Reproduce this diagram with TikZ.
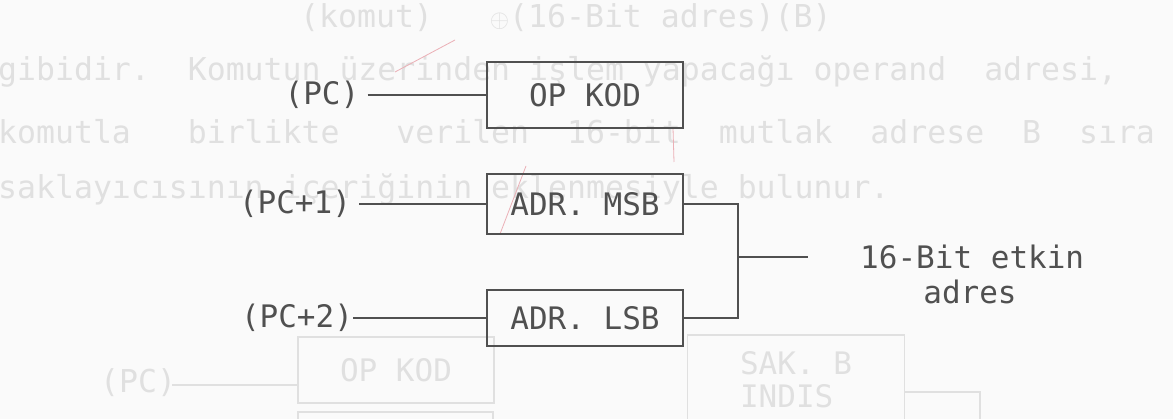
\documentclass[tikz,border=0pt]{standalone}
\usepackage{fontspec}
\newfontfamily\dotfont{DejaVu Sans Mono}
\definecolor{ink}{HTML}{505050}
\definecolor{ghost}{HTML}{E0E0E0}
\definecolor{paper}{HTML}{FAFAFA}
\definecolor{pencil}{HTML}{EBB0B6}
\begin{document}
\begin{tikzpicture}[x=1pt,y=-1pt,
  txt/.style={font=\dotfont\fontsize{31}{33}\selectfont, text=ink, inner sep=0pt},
  gtxt/.style={font=\dotfont\fontsize{31.5}{33}\selectfont, text=ghost, inner sep=0pt, anchor=west},
  regbox/.style={draw=ink, line width=1.3pt, minimum width=196pt, font=\dotfont\fontsize{31}{33}\selectfont, text=ink, inner sep=0pt},
  wire/.style={draw=ink, line width=1.3pt},
  gline/.style={draw=ghost, line width=1.5pt},
  pencilmark/.style={draw=pencil, line width=0.8pt}]
\useasboundingbox[fill=paper] (0,0) rectangle (1173,419);
% bleed-through text from the reverse side
\node[gtxt] (g0) at (300,18) {(komut)~~~$\oplus$(16-Bit~adres)(B)};
\node[gtxt] (g1) at (-2,72) {gibidir.~~Komutun üzerinden işlem yapacağı~operand~~adresi,};
\node[gtxt] (g2) at (-2,132) {komutla~~~birlikte~~~verilen~~16-bit~~mutlak~~adrese~~B~~sıra};
\node[gtxt] (g3) at (-2,190) {saklayıcısının içeriğinin eklenmesiyle bulunur.};
\node[gtxt] (g4) at (100,383) {(PC)};
\node[draw=ghost, line width=1.5pt, minimum width=196pt, minimum height=66pt, inner sep=0pt, font=\dotfont\fontsize{31}{33}\selectfont, text=ghost] (g5) at (396,370) {OP KOD};
\node[draw=ghost, line width=1.5pt, minimum width=217pt, minimum height=90pt, inner sep=0pt, align=left, font=\dotfont\fontsize{31}{33}\selectfont, text=ghost] (g6) at (796,380) {SAK. B\\INDIS};
\coordinate (g7) at (172,385);
\draw[gline] (g7) -- (g7 -| g5.west);
\draw[gline] (g6.east |- 0,392) -- (980,392) -- (980,419);
\draw[gline] (298,419) -- (298,412) -- (493,412) -- (493,419);
% pencil marks
\draw[pencilmark] (455,40) -- (395,72);
\draw[pencilmark] (500,234) -- (526,166);
\draw[pencilmark] (673,128) -- (674,162);
% main diagram
\node[regbox, minimum height=66pt] (op) at (585,95) {OP KOD};
\node[regbox, minimum height=60pt] (msb) at (585,204) {ADR. MSB};
\node[regbox, minimum height=56pt] (lsb) at (585,318) {ADR. LSB};
\node[txt, inner xsep=8pt] (pc) at (322,95) {(PC)};
\node[txt, inner xsep=8pt] (pc1) at (295,204) {(PC+1)};
\node[txt] (pc2) at (297,318) {(PC+2)};
\draw[wire] (pc.east) -- (op.west);
\draw[wire] (pc1.east) -- (msb.west);
\draw[wire] (pc2.east) -- (lsb.west);
\coordinate (j) at (738,257);
\coordinate (o) at (808,257);
\draw[wire] (msb.east) -| (j) |- (lsb.east);
\draw[wire] (j) -- (o);
\node[txt, anchor=west] (res) at (860,257) {16-Bit etkin};
\node[txt] (res2) at (970,292) {adres};
\end{tikzpicture}
\end{document}
